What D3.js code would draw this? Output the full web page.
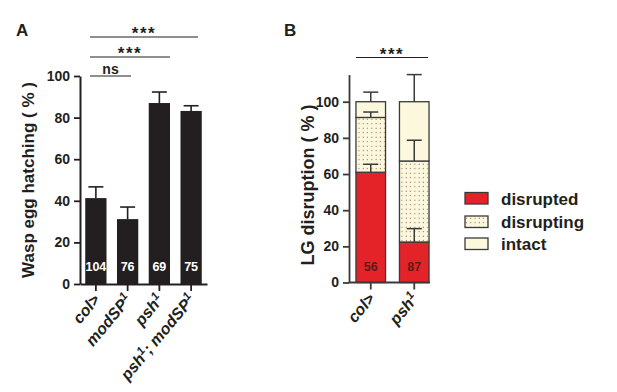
<!DOCTYPE html>
<html><head><meta charset="utf-8">
<script src="https://cdn.jsdelivr.net/npm/d3@7"></script>
<style>
body{margin:0;background:#fff;}
svg text{font-family:Arial,"Liberation Sans",sans-serif;}
</style></head>
<body><svg id="c" width="617" height="392"></svg>
<script>
// ---- Data: panel A ----
const catsA = ["col>", "modSP1", "psh1", "psh1; modSP1"];
const hatching = [41.3, 31.2, 87.0, 83.2];
const hatchingErr = [5.4, 5.8, 5.3, 2.5];
const nA = [104, 76, 69, 75];
const ticksA = [0, 20, 40, 60, 80, 100];
const sigA = [ {from: 0, to: 1, label: "ns"}, {from: 0, to: 2, label: "***"}, {from: 0, to: 3, label: "***"} ];

// ---- Data: panel B ----
const catsB = ["col>", "psh1"];
const disrupted = [61.0, 22.4];
const disrupting = [30.3, 44.8];
const intact = [8.7, 32.8];
const errDisrupted = [4.4, 7.4];
const errDisrupting = [3.0, 11.5];
const errIntact = [5.3, 15.0];
const nB = [56, 87];
const ticksB = [0, 20, 40, 60, 80, 100];
const legendLabels = ["disrupted", "disrupting", "intact"];

const svg = d3.select("#c");
const ink = "#231f20";
const red = "#e42329";
const cream = "#fbf8dd";

// pattern
const defs = svg.append("defs");
const pat = defs.append("pattern").attr("id","dots").attr("patternUnits","userSpaceOnUse")
  .attr("width",4.3).attr("height",4.5);
pat.append("rect").attr("width",4.3).attr("height",4.5).attr("fill",cream);
pat.append("circle").attr("cx",2).attr("cy",2.2).attr("r",0.6).attr("fill","#8c5a48");

function label(g, txt){ // handles superscript 1
  const parts = txt.split(/(1)/);
  parts.forEach(p=>{
    if(p==="1") g.append("tspan").attr("baseline-shift","super").attr("font-size","0.72em").text("1");
    else if(p) g.append("tspan").text(p);
  });
}

// ================= Panel A =================
const xA = d3.scaleBand().domain(catsA).range([80, 207]).paddingInner(0.33).paddingOuter(0.165);
const yA = d3.scaleLinear().domain([0, 100]).range([284, 76]);

const gA = svg.append("g");
gA.selectAll("rect.bar").data(catsA).join("rect")
  .attr("x", d=>xA(d)).attr("width", xA.bandwidth())
  .attr("y", (d,i)=>yA(hatching[i])).attr("height",(d,i)=>yA(0)-yA(hatching[i]))
  .attr("fill", ink);
// error bars
catsA.forEach((c,i)=>{
  const cx = xA(c)+xA.bandwidth()/2;
  gA.append("line").attr("x1",cx).attr("x2",cx).attr("y1",yA(hatching[i])).attr("y2",yA(hatching[i]+hatchingErr[i]))
    .attr("stroke",ink).attr("stroke-width",1.6);
  gA.append("line").attr("x1",cx-7.5).attr("x2",cx+7.5).attr("y1",yA(hatching[i]+hatchingErr[i])).attr("y2",yA(hatching[i]+hatchingErr[i]))
    .attr("stroke",ink).attr("stroke-width",1.6);
  gA.append("text").attr("x",cx).attr("y",271).attr("text-anchor","middle")
    .attr("fill","#fff").attr("font-weight","bold").attr("font-size",12.5).text(nA[i]);
});
// y axis
const axA = gA.append("g").attr("transform","translate(80,0)")
  .call(d3.axisLeft(yA).tickValues(ticksA).tickSize(6).tickSizeOuter(0));
axA.select(".domain").attr("stroke",ink).attr("stroke-width",2);
axA.selectAll(".tick line").attr("stroke",ink).attr("stroke-width",1.8);
axA.selectAll(".tick text").attr("font-size",14).attr("font-weight","bold").attr("fill",ink)
  .attr("font-family","Arial, Liberation Sans, sans-serif").attr("x",-10);
// x axis
const axAx = gA.append("g").attr("transform","translate(0,284)")
  .call(d3.axisBottom(xA).tickSize(7).tickSizeOuter(0).tickFormat(""));
axAx.select(".domain").attr("stroke",ink).attr("stroke-width",2);
axAx.selectAll(".tick line").attr("stroke",ink).attr("stroke-width",1.8);
catsA.forEach(c=>{
  const t = gA.append("text").attr("text-anchor","end")
    .attr("transform",`translate(${xA(c)+xA.bandwidth()/2+5},${300}) rotate(-50)`)
    .attr("font-size",16).attr("font-weight","bold").attr("font-style","italic").attr("fill",ink);
  label(t, c);
});
// title
gA.append("text").attr("transform","translate(34,180) rotate(-90)").attr("text-anchor","middle")
  .attr("font-size",17).attr("font-weight","bold").attr("fill",ink).text("Wasp egg hatching ( % )");
gA.append("text").attr("x",16).attr("y",36).attr("font-size",17).attr("font-weight","bold").attr("fill",ink).text("A");
// significance
const sigY = [76, 57, 37];
sigA.forEach((s,i)=>{
  const x1 = 90, x2 = [131, 170, 198][i];
  gA.append("line").attr("x1",x1).attr("x2",x2).attr("y1",sigY[i]).attr("y2",sigY[i]).attr("stroke",ink).attr("stroke-width",1.2);
  gA.append("text").attr("x",(x1+x2)/2).attr("y",s.label==="ns"?sigY[i]-2.5:sigY[i]+2)
    .attr("text-anchor","middle").attr("font-size",s.label==="ns"?14:17)
    .attr("letter-spacing", s.label==="ns"?0:1.5)
    .attr("font-weight","bold").attr("fill",ink).text(s.label);
});

// ================= Panel B =================
const xB = d3.scaleBand().domain(catsB).range([349, 436]).paddingInner(0.32).paddingOuter(0.16);
const yB = d3.scaleLinear().domain([0, 115]).range([282.5, 74.6]);
const gB = svg.append("g");
const segs = [
  {vals: disrupted, err: errDisrupted, fill: red},
  {vals: disrupting, err: errDisrupting, fill: "url(#dots)"},
  {vals: intact, err: errIntact, fill: cream}
];
catsB.forEach((c,i)=>{
  let base = 0;
  const cx = xB(c)+xB.bandwidth()/2;
  segs.forEach(s=>{
    const top = base + s.vals[i];
    gB.append("rect").attr("x",xB(c)).attr("width",xB.bandwidth())
      .attr("y",yB(top)).attr("height",yB(base)-yB(top))
      .attr("fill",s.fill).attr("stroke","#3a3a3a").attr("stroke-width",1.3);
    base = top;
  });
  base = 0;
  segs.forEach(s=>{
    const top = base + s.vals[i];
    const e = top + s.err[i];
    gB.append("line").attr("x1",cx).attr("x2",cx).attr("y1",yB(top)).attr("y2",yB(e)).attr("stroke","#3a3a3a").attr("stroke-width",1.5);
    gB.append("line").attr("x1",cx-7.5).attr("x2",cx+7.5).attr("y1",yB(e)).attr("y2",yB(e)).attr("stroke","#3a3a3a").attr("stroke-width",1.5);
    base = top;
  });
  gB.append("text").attr("x",cx).attr("y",271).attr("text-anchor","middle")
    .attr("fill","#5a1c18").attr("font-weight","bold").attr("font-size",12.5).text(nB[i]);
});
const axB = gB.append("g").attr("transform","translate(349,0)")
  .call(d3.axisLeft(yB).tickValues(ticksB).tickSize(6).tickSizeOuter(0));
axB.select(".domain").attr("stroke","#3a3a3a").attr("stroke-width",1.8);
axB.selectAll(".tick line").attr("stroke","#3a3a3a").attr("stroke-width",1.8);
axB.selectAll(".tick text").attr("font-size",14).attr("font-weight","bold").attr("fill",ink)
  .attr("font-family","Arial, Liberation Sans, sans-serif").attr("x",-10);
const axBx = gB.append("g").attr("transform","translate(0,282.5)")
  .call(d3.axisBottom(xB).tickSize(7).tickSizeOuter(0).tickFormat(""));
axBx.select(".domain").attr("stroke","#3a3a3a").attr("stroke-width",1.8).attr("d","M349,0H430");
axBx.selectAll(".tick line").attr("stroke","#3a3a3a").attr("stroke-width",1.8);
catsB.forEach(c=>{
  const t = gB.append("text").attr("text-anchor","end")
    .attr("transform",`translate(${xB(c)+xB.bandwidth()/2+5},${299}) rotate(-50)`)
    .attr("font-size",16).attr("font-weight","bold").attr("font-style","italic").attr("fill",ink);
  label(t, c);
});
gB.append("text").attr("transform","translate(314,185) rotate(-90)").attr("text-anchor","middle")
  .attr("font-size",18).attr("font-weight","bold").attr("fill",ink).text("LG disruption ( % )");
gB.append("text").attr("x",284).attr("y",36).attr("font-size",17).attr("font-weight","bold").attr("fill",ink).text("B");
gB.append("line").attr("x1",356).attr("x2",428).attr("y1",57.5).attr("y2",57.5).attr("stroke",ink).attr("stroke-width",1.2);
gB.append("text").attr("x",392).attr("y",59.5).attr("text-anchor","middle").attr("font-size",17)
  .attr("letter-spacing",1.5).attr("font-weight","bold").attr("fill",ink).text("***");

// legend
const legFills = [red, "url(#dots)", cream];
const legY = [192.5, 216, 238];
legendLabels.forEach((l,i)=>{
  svg.append("rect").attr("x",465).attr("y",legY[i]).attr("width",23).attr("height",11.5)
    .attr("fill",legFills[i]).attr("stroke","#3a3a3a").attr("stroke-width",1.3);
  svg.append("text").attr("x",501).attr("y",legY[i]+12).attr("font-size",17).attr("font-weight","bold").attr("fill",ink).text(l);
});
</script></body></html>
